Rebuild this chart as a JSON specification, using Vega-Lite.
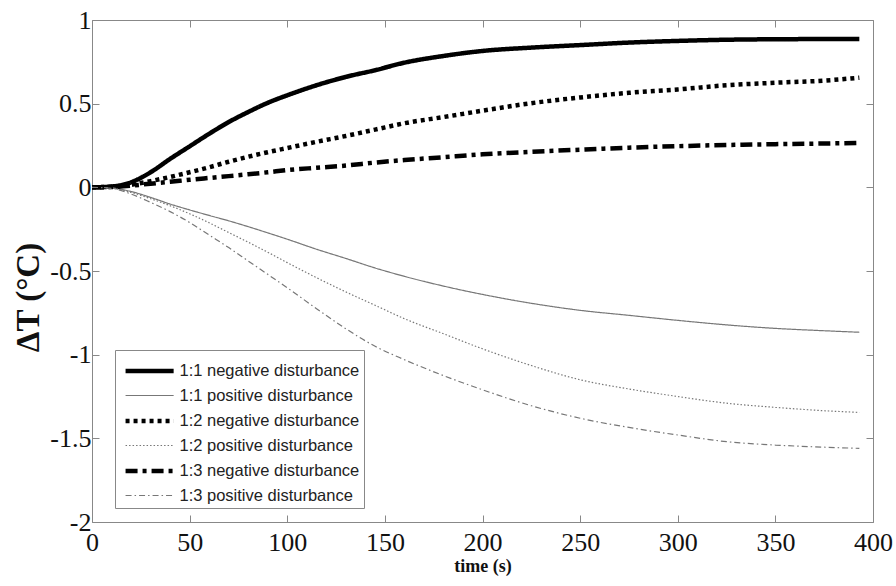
{
  "$schema": "https://vega.github.io/schema/vega-lite/v6.json",
  "width": 781,
  "height": 502,
  "autosize": {"type": "none"},
  "padding": {"left": 92, "top": 20, "right": 23, "bottom": 64},
  "background": "white",
  "config": {"view": {"stroke": null}, "font": "Liberation Serif"},
  "data": {
    "values": [
      {"t": 0, "N1": 0, "P1": 0, "N2": 0, "P2": 0, "N3": 0, "P3": 0},
      {"t": 10, "N1": 0.005, "P1": -0.004, "N2": 0.003, "P2": -0.005, "N3": 0.002, "P3": -0.006},
      {"t": 20, "N1": 0.03, "P1": -0.025, "N2": 0.015, "P2": -0.03, "N3": 0.01, "P3": -0.04},
      {"t": 30, "N1": 0.09, "P1": -0.06, "N2": 0.037, "P2": -0.068, "N3": 0.022, "P3": -0.09},
      {"t": 40, "N1": 0.17, "P1": -0.1, "N2": 0.062, "P2": -0.11, "N3": 0.033, "P3": -0.145},
      {"t": 50, "N1": 0.245, "P1": -0.135, "N2": 0.09, "P2": -0.158, "N3": 0.045, "P3": -0.21},
      {"t": 60, "N1": 0.32, "P1": -0.168, "N2": 0.12, "P2": -0.212, "N3": 0.056, "P3": -0.285},
      {"t": 70, "N1": 0.39, "P1": -0.2, "N2": 0.153, "P2": -0.27, "N3": 0.067, "P3": -0.36},
      {"t": 80, "N1": 0.45, "P1": -0.235, "N2": 0.183, "P2": -0.328, "N3": 0.078, "P3": -0.44},
      {"t": 90, "N1": 0.505, "P1": -0.272, "N2": 0.21, "P2": -0.388, "N3": 0.09, "P3": -0.52},
      {"t": 100, "N1": 0.55, "P1": -0.31, "N2": 0.235, "P2": -0.45, "N3": 0.103, "P3": -0.6},
      {"t": 115, "N1": 0.61, "P1": -0.37, "N2": 0.272, "P2": -0.54, "N3": 0.117, "P3": -0.725},
      {"t": 130, "N1": 0.66, "P1": -0.425, "N2": 0.307, "P2": -0.625, "N3": 0.13, "P3": -0.845},
      {"t": 145, "N1": 0.7, "P1": -0.482, "N2": 0.345, "P2": -0.705, "N3": 0.148, "P3": -0.95},
      {"t": 160, "N1": 0.745, "P1": -0.532, "N2": 0.383, "P2": -0.785, "N3": 0.163, "P3": -1.03},
      {"t": 180, "N1": 0.785, "P1": -0.59, "N2": 0.42, "P2": -0.875, "N3": 0.18, "P3": -1.125},
      {"t": 200, "N1": 0.815, "P1": -0.64, "N2": 0.458, "P2": -0.965, "N3": 0.197, "P3": -1.21},
      {"t": 225, "N1": 0.835, "P1": -0.693, "N2": 0.503, "P2": -1.065, "N3": 0.212, "P3": -1.305},
      {"t": 250, "N1": 0.85, "P1": -0.735, "N2": 0.537, "P2": -1.15, "N3": 0.225, "P3": -1.38},
      {"t": 275, "N1": 0.865, "P1": -0.765, "N2": 0.565, "P2": -1.205, "N3": 0.237, "P3": -1.435},
      {"t": 300, "N1": 0.875, "P1": -0.795, "N2": 0.585, "P2": -1.25, "N3": 0.246, "P3": -1.48},
      {"t": 325, "N1": 0.882, "P1": -0.822, "N2": 0.61, "P2": -1.29, "N3": 0.253, "P3": -1.52},
      {"t": 350, "N1": 0.885, "P1": -0.843, "N2": 0.625, "P2": -1.315, "N3": 0.258, "P3": -1.54},
      {"t": 375, "N1": 0.886, "P1": -0.857, "N2": 0.638, "P2": -1.335, "N3": 0.262, "P3": -1.553},
      {"t": 393, "N1": 0.886, "P1": -0.866, "N2": 0.655, "P2": -1.345, "N3": 0.265, "P3": -1.56}
    ]
  },
  "transform": [
    {"fold": ["N1", "P1", "N2", "P2", "N3", "P3"], "as": ["key", "dT"]},
    {"lookup": "key", "from": {"data": {"values": [
      {"key": "N1", "series": "1:1 negative disturbance"},
      {"key": "P1", "series": "1:1 positive disturbance"},
      {"key": "N2", "series": "1:2 negative disturbance"},
      {"key": "P2", "series": "1:2 positive disturbance"},
      {"key": "N3", "series": "1:3 negative disturbance"},
      {"key": "P3", "series": "1:3 positive disturbance"}
    ]}, "key": "key", "fields": ["series"]}}
  ],
  "layer": [
    {
      "mark": {"type": "line", "interpolate": "monotone"},
      "encoding": {
        "x": {
          "field": "t", "type": "quantitative",
          "scale": {"domain": [0, 400], "nice": false},
          "title": "time (s)",
          "axis": {
            "values": [0, 50, 100, 150, 200, 250, 300, 350, 400],
            "grid": false, "labelFlush": false,
            "labelFont": "Liberation Serif", "labelFontSize": 26, "labelColor": "#111",
            "labelPadding": 14,
            "domainColor": "#888", "tickColor": "#888", "tickSize": -7,
            "titleFont": "Liberation Serif", "titleFontWeight": "bold", "titleFontSize": 18, "titleColor": "#111",
            "titlePadding": 2
          }
        },
        "y": {
          "field": "dT", "type": "quantitative",
          "scale": {"domain": [-2, 1], "nice": false},
          "title": "ΔT (°C)",
          "axis": {
            "values": [-2, -1.5, -1, -0.5, 0, 0.5, 1],
            "labelExpr": "'' + datum.value",
            "grid": false,
            "labelFont": "Liberation Serif", "labelFontSize": 26, "labelColor": "#111",
            "labelPadding": 8,
            "domainColor": "#888", "tickColor": "#888", "tickSize": -7,
            "titleFont": "Liberation Serif", "titleFontWeight": "bold", "titleFontSize": 33, "titleColor": "#111",
            "titleX": -64, "titleY": 277, "titleAlign": "center", "titleBaseline": "middle", "titleAngle": -90
          }
        },
        "color": {
          "field": "series", "type": "nominal",
          "scale": {
            "domain": ["1:1 negative disturbance", "1:1 positive disturbance", "1:2 negative disturbance", "1:2 positive disturbance", "1:3 negative disturbance", "1:3 positive disturbance"],
            "range": ["#000000", "#777777", "#000000", "#777777", "#000000", "#777777"]
          },
          "legend": {
            "title": null, "orient": "none", "legendX": 23, "legendY": 330,
            "symbolType": "M-1.63,0H1.63", "symbolSize": 870, "symbolOffset": 13.6,
            "labelFont": "Liberation Sans", "labelFontSize": 16.5, "labelColor": "#222", "labelLimit": 0, "labelOffset": 12.9,
            "padding": 4, "rowPadding": 0, "strokeColor": "#888", "fillColor": "white"
          }
        },
        "strokeDash": {
          "field": "series", "type": "nominal",
          "scale": {
            "domain": ["1:1 negative disturbance", "1:1 positive disturbance", "1:2 negative disturbance", "1:2 positive disturbance", "1:3 negative disturbance", "1:3 positive disturbance"],
            "range": [[1, 0], [1, 0], [4, 4], [1.5, 2], [12, 5, 4, 5], [6, 3, 1.5, 3]]
          },
          "legend": {
            "title": null, "orient": "none", "legendX": 23, "legendY": 330,
            "symbolType": "M-1.63,0H1.63", "symbolSize": 870, "symbolOffset": 13.6,
            "labelFont": "Liberation Sans", "labelFontSize": 16.5, "labelColor": "#222", "labelLimit": 0, "labelOffset": 12.9,
            "padding": 4, "rowPadding": 0, "strokeColor": "#888", "fillColor": "white"
          }
        },
        "strokeWidth": {
          "field": "series", "type": "nominal",
          "scale": {
            "type": "ordinal",
            "domain": ["1:1 negative disturbance", "1:1 positive disturbance", "1:2 negative disturbance", "1:2 positive disturbance", "1:3 negative disturbance", "1:3 positive disturbance"],
            "range": [4.5, 1.2, 4.5, 1.2, 4.5, 1.2]
          },
          "legend": {
            "title": null, "orient": "none", "legendX": 23, "legendY": 330,
            "symbolType": "M-1.63,0H1.63", "symbolSize": 870, "symbolOffset": 13.6,
            "labelFont": "Liberation Sans", "labelFontSize": 16.5, "labelColor": "#222", "labelLimit": 0, "labelOffset": 12.9,
            "padding": 4, "rowPadding": 0, "strokeColor": "#888", "fillColor": "white"
          }
        }
      }
    },
    {
      "mark": {"type": "line", "opacity": 0},
      "encoding": {
        "x": {"field": "t", "type": "quantitative", "axis": {"orient": "top", "values": [0, 50, 100, 150, 200, 250, 300, 350, 400], "labels": false, "title": null, "grid": false, "domainColor": "#888", "tickColor": "#888", "tickSize": -7}},
        "y": {"field": "dT", "type": "quantitative", "axis": {"orient": "right", "values": [-2, -1.5, -1, -0.5, 0, 0.5, 1], "labels": false, "title": null, "grid": false, "domainColor": "#888", "tickColor": "#888", "tickSize": -7}},
        "detail": {"field": "series", "type": "nominal"}
      }
    }
  ],
  "resolve": {"axis": {"x": "independent", "y": "independent"}}
}
